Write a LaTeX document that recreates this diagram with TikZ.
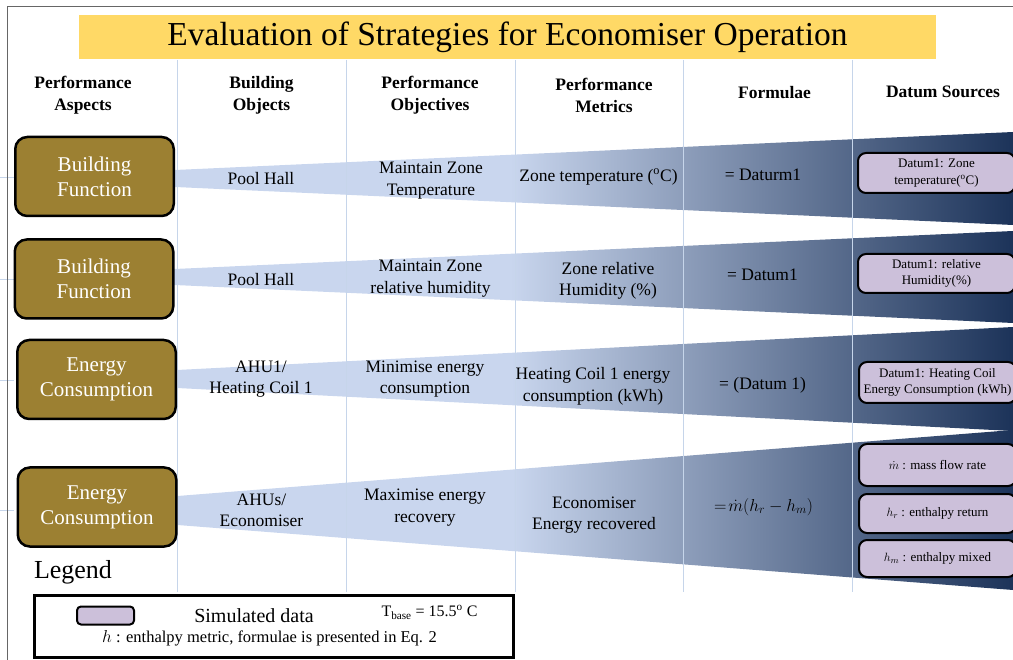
\documentclass[tikz,border=0pt]{standalone}
\usepackage{fontspec}
\setmainfont{Liberation Serif}
\usetikzlibrary{positioning,calc,backgrounds}

\definecolor{titleyellow}{HTML}{FFD966}
\definecolor{aspectbrown}{HTML}{9C8032}
\definecolor{datumlilac}{HTML}{CCC0DA}
\definecolor{gridblue}{HTML}{C6D5EA}
\definecolor{wedgelight}{HTML}{C9D6EE}
\definecolor{wedgedark}{HTML}{1C3359}

% light over the first columns, darkening towards the datum sources
\pgfdeclarehorizontalshading{wedgeshade}{100bp}{color(0bp)=(wedgelight); color(45bp)=(wedgelight); color(75bp)=(wedgedark); color(100bp)=(wedgedark)}

\tikzset{
  aspect/.style={draw=black, line width=2.5pt, rounded corners=12pt, fill=aspectbrown, text=white,
    minimum width=158.5pt, minimum height=79pt, align=center, inner sep=0pt,
    font=\fontsize{21}{25}\selectfont},
  datum/.style={draw=black, line width=2pt, rounded corners=8pt, fill=datumlilac,
    minimum width=157pt, align=center, inner sep=0pt, font=\fontsize{13}{16.5}\selectfont},
  head/.style={align=center, font=\bfseries\fontsize{17.5}{22}\selectfont},
  cell/.style={align=center, font=\fontsize{17.5}{21.5}\selectfont},
  colline/.style={gridblue, line width=1pt},
}

\begin{document}
\begin{tikzpicture}[x=1pt, y=-1pt]
\clip (0,0) rectangle (1013,660);

% frame and title
\draw[black!60, line width=1pt] (1013,7) -- (7,7) -- (7,660);
\node[fill=titleyellow, minimum width=857pt, minimum height=44pt, inner sep=0pt,
  font=\fontsize{33.5}{37}\selectfont] (title) at (507.5,37) {Evaluation of Strategies for Economiser Operation};

% column headings
\node[head] (hasp)  at (83,95)    {Performance\\Aspects};
\node[head] (hobj)  at (261.5,95) {Building\\Objects};
\node[head] (hpobj) at (430,95)   {Performance\\Objectives};
\node[head] (hmet)  at (604,95)   {Performance\\Metrics};
\node[head] (hform) at (774.5,93) {Formulae};
\node[head] (hsrc)  at (943,92)   {Datum Sources};

% performance aspects
\node[aspect] (asp1) at (94.5,176.5) {Building\\Function};
\node[aspect] (asp2) at (94,279)     {Building\\Function};
\node[aspect] (asp3) at (96.5,379.5) {Energy\\Consumption};
\node[aspect] (asp4) at (97,507)     {Energy\\Consumption};

\begin{scope}[on background layer]
% wedges fanning out from each aspect
\shade[shading=wedgeshade] ($(asp1.east)+(0,-6.5)$) -- (1013,132) -- (1013,225) -- ($(asp1.east)+(0,10.5)$) -- cycle;
\shade[shading=wedgeshade] ($(asp2.east)+(0,-10)$) -- (1013,231) -- (1013,323) -- ($(asp2.east)+(0,6)$) -- cycle;
\shade[shading=wedgeshade] ($(asp3.east)+(0,-9.5)$) -- (1013,327) -- (1013,431) -- ($(asp3.east)+(0,8.5)$) -- cycle;
\shade[shading=wedgeshade] ($(asp4.east)+(0,-11)$) -- (1013,430) -- (1013,590) -- ($(asp4.east)+(0,18)$) -- cycle;
% column rules and row stubs
\foreach \x in {177,346,515,683,852}
  \draw[colline] (\x,60) -- (\x,592);
\foreach \y in {178,280,381,510}
  \draw[colline] (0,\y) -- (14,\y);
\end{scope}

% row 1
\node[cell] (obj1)  at (261,179)    {Pool Hall};
\node[cell] (pobj1) at (431,180.5)  {Maintain Zone\\Temperature};
\node[cell] (met1)  at (598.5,177)  {Zone temperature (\textsuperscript{o}C)};
\node[cell] (form1) at (763,175)    {= Daturm1};
\node[datum, minimum height=40pt] (src1) at (936.5,173) {Datum1: Zone\\temperature(\textsuperscript{o}C)};

% row 2
\node[cell] (obj2)  at (261,280)    {Pool Hall};
\node[cell] (pobj2) at (430.5,278.5) {Maintain Zone\\relative humidity};
\node[cell] (met2)  at (608,281)    {Zone relative\\Humidity (\%)};
\node[cell] (form2) at (762.5,275)  {= Datum1};
\node[datum, minimum height=39pt] (src2) at (936.5,273.5) {Datum1: relative\\Humidity(\%)};

% row 3
\node[cell] (obj3)  at (261,379)    {AHU1/\\Heating Coil 1};
\node[cell] (pobj3) at (425,379)    {Minimise energy\\consumption};
\node[cell] (met3)  at (593,386.5)  {Heating Coil 1 energy\\consumption (kWh)};
\node[cell] (form3) at (762.5,385)  {= (Datum 1)};
\node[datum, minimum height=41pt] (src3) at (937.5,382.5) {Datum1: Heating Coil\\Energy Consumption (kWh)};

% row 4
\node[cell] (obj4)  at (261.5,510.5) {AHUs/\\Economiser};
\node[cell] (pobj4) at (425,507.5)  {Maximise energy\\recovery};
\node[cell] (met4)  at (594,515)    {Economiser\\Energy recovered};
\node[cell] (form4) at (763.5,507)  {$=\!\dot{m}(h_r-h_m)$};
\node[datum, minimum height=42pt] (src4a) at (937.5,465)   {$\dot{m}$ : mass flow rate};
\node[datum, minimum height=39pt] (src4b) at (937.5,513.5) {$h_r$ : enthalpy return};
\node[datum, minimum height=37pt] (src4c) at (937.5,558.5) {$h_m$ : enthalpy mixed};

% legend
\node[font=\fontsize{26}{30}\selectfont] (legtitle) at (73,572) {Legend};
\node[draw=black, line width=3pt, fill=white, minimum width=479pt, minimum height=62pt] (legbox) at (274,626.5) {};
\node[datum, minimum width=57pt, minimum height=18pt, rounded corners=4pt] (legsample) at (105.5,615.5) {};
\node[font=\fontsize{20}{24}\selectfont] (legsim) at (254,616) {Simulated data};
\node[font=\fontsize{16}{19}\selectfont] (legbase) at (429.5,612) {T\textsubscript{base} = 15.5\textsuperscript{o} C};
\node[font=\fontsize{16.5}{20}\selectfont] (legh) at (269.5,638) {$h$ : enthalpy metric, formulae is presented in Eq. 2};
\end{tikzpicture}
\end{document}
